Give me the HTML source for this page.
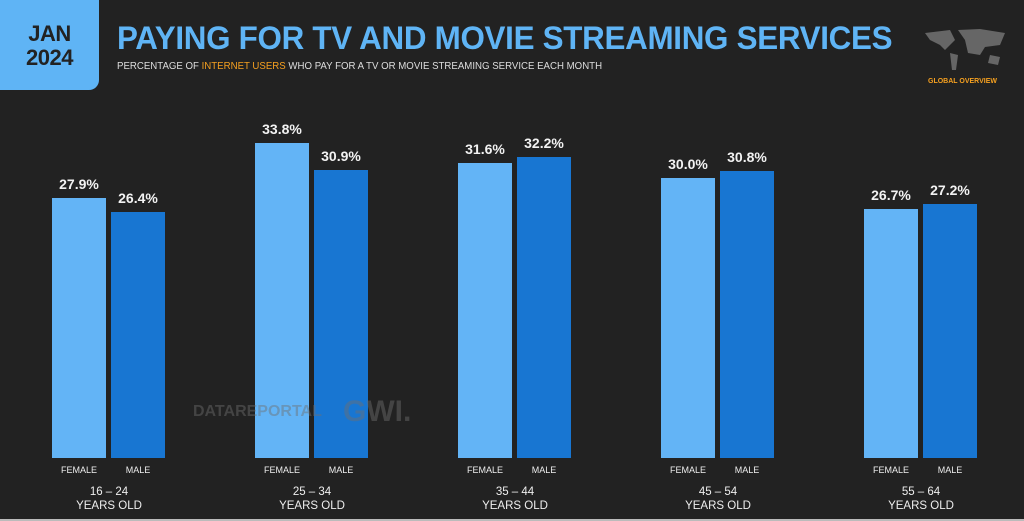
<!DOCTYPE html>
<html><head><style>
body{margin:0;width:1024px;height:521px;background:#222222;font-family:"Liberation Sans",sans-serif;position:relative;overflow:hidden}
.abs{position:absolute}
.box{left:0;top:-10px;width:99px;height:100px;background:#5fb4f5;border-radius:0 0 10px 0}
.date{left:0;top:22px;width:99px;text-align:center;color:#222;font-weight:bold;font-size:22px;line-height:24px;letter-spacing:-0.5px}
.title{left:117px;top:20px;color:#5fb4f5;font-weight:bold;font-size:32px;letter-spacing:-0.3px;transform:scaleX(0.98);transform-origin:left}
.sub{left:117px;top:60px;color:#ddd;font-size:10.5px;transform:scaleX(0.92);transform-origin:left}
.bar{bottom:63px;width:54px}
.f{background:#63b4f6}.m{background:#1876d2}
.v{width:60px;text-align:center;color:#f2f2f2;font-weight:bold;font-size:14px}
.l{width:60px;text-align:center;color:#eee;font-size:9px;top:465px}
.g{width:150px;text-align:center;color:#eee;font-size:11.5px;line-height:14px;top:485px}
</style></head><body>
<div class="abs box"></div>
<div class="abs date">JAN<br>2024</div>
<div class="abs title">PAYING FOR TV AND MOVIE STREAMING SERVICES</div>
<div class="abs sub">PERCENTAGE OF <span style="color:#f5a020">INTERNET USERS</span> WHO PAY FOR A TV OR MOVIE STREAMING SERVICE EACH MONTH</div>
<svg class="abs" style="left:920px;top:25px" width="90" height="50"><path d="M5 8 L30 5 L35 15 L25 25 L20 20 L10 15Z M38 5 L60 4 L85 8 L80 20 L65 22 L60 30 L48 28 L45 15Z M30 28 L38 30 L36 45 L32 45Z M70 30 L80 32 L78 40 L68 38Z" fill="#666"/></svg>
<div class="abs" style="left:928px;top:78px;color:#f5a020;font-size:7px;font-weight:bold">GLOBAL OVERVIEW</div>
<div class="abs bar f" style="left:52px;height:260px"></div><div class="abs bar m" style="left:111px;height:246px"></div>
<div class="abs bar f" style="left:255px;height:315px"></div><div class="abs bar m" style="left:314px;height:288px"></div>
<div class="abs bar f" style="left:458px;height:295px"></div><div class="abs bar m" style="left:517px;height:301px"></div>
<div class="abs bar f" style="left:661px;height:280px"></div><div class="abs bar m" style="left:720px;height:287px"></div>
<div class="abs bar f" style="left:864px;height:249px"></div><div class="abs bar m" style="left:923px;height:254px"></div>
<div class="abs" style="left:193px;top:403px;color:rgba(110,110,110,0.45);font-weight:bold;font-size:16px">DATAREPORTAL</div>
<div class="abs" style="left:343px;top:395px;color:rgba(110,110,110,0.45);font-weight:bold;font-size:30px">GWI.</div>
<div class="abs v" style="left:49px;top:176px">27.9%</div><div class="abs v" style="left:108px;top:190px">26.4%</div>
<div class="abs v" style="left:252px;top:121px">33.8%</div><div class="abs v" style="left:311px;top:148px">30.9%</div>
<div class="abs v" style="left:455px;top:141px">31.6%</div><div class="abs v" style="left:514px;top:135px">32.2%</div>
<div class="abs v" style="left:658px;top:156px">30.0%</div><div class="abs v" style="left:717px;top:149px">30.8%</div>
<div class="abs v" style="left:861px;top:187px">26.7%</div><div class="abs v" style="left:920px;top:182px">27.2%</div>
<div class="abs l" style="left:49px">FEMALE</div><div class="abs l" style="left:108px">MALE</div>
<div class="abs l" style="left:252px">FEMALE</div><div class="abs l" style="left:311px">MALE</div>
<div class="abs l" style="left:455px">FEMALE</div><div class="abs l" style="left:514px">MALE</div>
<div class="abs l" style="left:658px">FEMALE</div><div class="abs l" style="left:717px">MALE</div>
<div class="abs l" style="left:861px">FEMALE</div><div class="abs l" style="left:920px">MALE</div>
<div class="abs g" style="left:34px">16 – 24<br>YEARS OLD</div>
<div class="abs g" style="left:237px">25 – 34<br>YEARS OLD</div>
<div class="abs g" style="left:440px">35 – 44<br>YEARS OLD</div>
<div class="abs g" style="left:643px">45 – 54<br>YEARS OLD</div>
<div class="abs g" style="left:846px">55 – 64<br>YEARS OLD</div>
<div class="abs" style="left:0;top:519px;width:1024px;height:2px;background:#bbb"></div>
</body></html>
